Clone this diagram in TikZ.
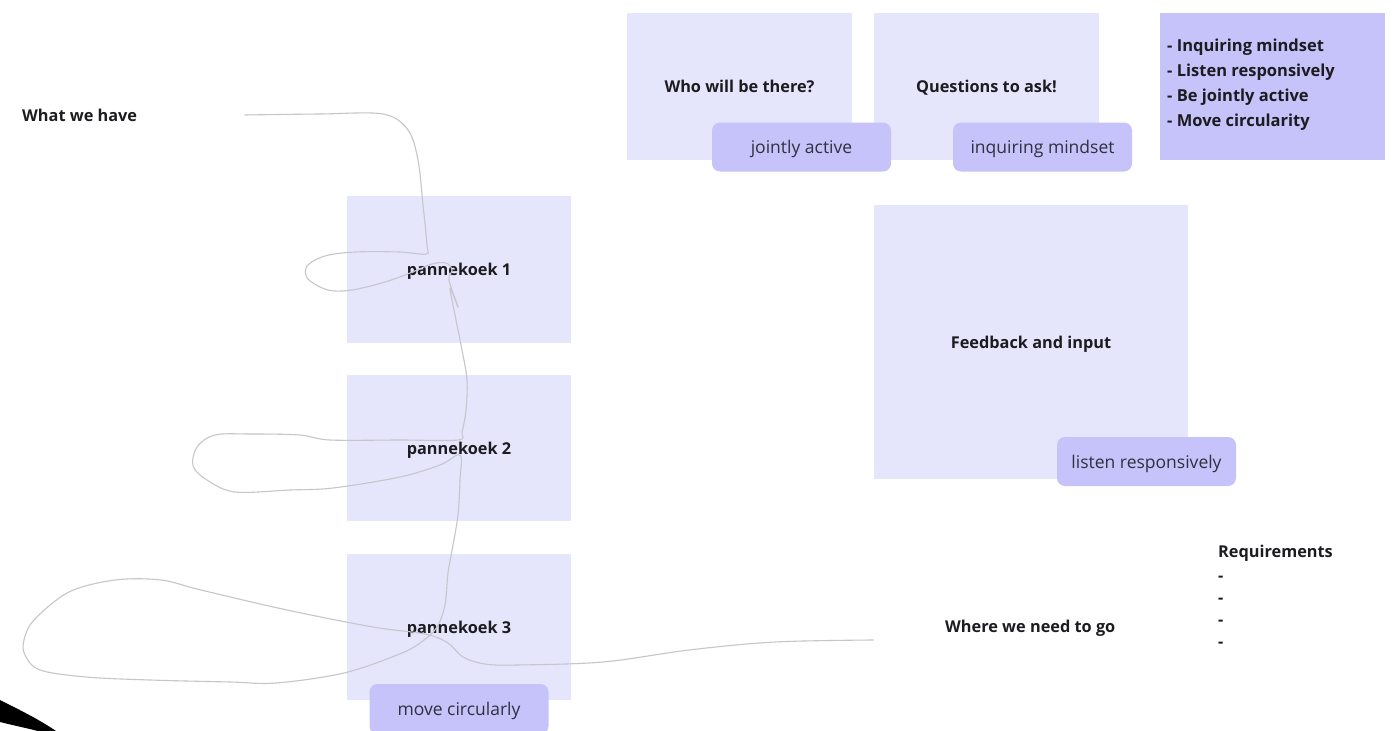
\documentclass[tikz,border=0pt]{standalone}
\usepackage{fontspec}
\setmainfont{Open Sans}
\definecolor{pale}{RGB}{229,229,252}
\definecolor{lilac}{RGB}{198,194,250}
\definecolor{ink}{RGB}{28,28,32}
\definecolor{stickyink}{RGB}{48,48,62}
\definecolor{pencil}{RGB}{198,198,204}

\begin{document}
\begin{tikzpicture}[x=1pt,y=-1pt,
  card/.style={fill=pale, minimum width=225pt, minimum height=147pt, inner sep=0pt,
    text depth=0pt, font=\fontsize{16.3}{20}\selectfont\bfseries, text=ink},
  sticky/.style={fill=lilac, rounded corners=8pt, minimum width=179pt, minimum height=49pt,
    inner sep=0pt, text depth=0pt, font=\fontsize{17.5}{21}\selectfont, text=stickyink},
  heading/.style={font=\fontsize{16.3}{21.7}\selectfont\bfseries, text=ink, inner sep=0pt},
  scribble/.style={draw=pencil, line width=1.1pt, line cap=round, line join=round}]

\useasboundingbox (0,0) rectangle (1398,731);
\fill[white] (0,0) rectangle (1398,731);

% top row of cards
\node[card] (who) at (739.5,86.5) {Who will be there?};
\node[card] (ask) at (986.5,86.5) {Questions to ask!};
\node[card, fill=lilac, minimum width=225pt] (goals) at (1272.5,86.5) {};
\node[heading, anchor=north west, align=left,
      font=\fontsize{16.5}{25}\selectfont\bfseries] (goallist) at (1167,39)
  {- Inquiring mindset\\- Listen responsively\\- Be jointly active\\- Move circularity};
\node[sticky] (jointly) at (801.5,147) {jointly active};
\node[sticky] (inquiring) at (1042.5,147) {inquiring mindset};

% left column
\node[heading, anchor=west] (have) at (22,115) {What we have};
\node[card, minimum width=224pt] (p1) at (459,269.5) {pannekoek 1};
\node[card, minimum width=224pt, minimum height=146pt] (p2) at (459,448) {pannekoek 2};
\node[card, minimum width=224pt, minimum height=146pt] (p3) at (459,627) {pannekoek 3};
\node[sticky, minimum height=50pt] (move) at (459,709) {move circularly};

% feedback card
\node[card, minimum width=314pt, minimum height=274pt] (feedback) at (1031,342) {Feedback and input};
\node[sticky] (listen) at (1146.5,461.5) {listen responsively};

% destination and requirements
\node[heading, anchor=west] (goal) at (945,628) {Where we need to go};
\node[heading, anchor=north west, align=left,
      font=\fontsize{16.3}{22}\selectfont\bfseries] (req) at (1218,545)
  {Requirements\\[2pt]-\\-\\-\\-};

% freehand pen line wandering through the pancakes
\draw[scribble] plot[smooth, tension=0.55] coordinates {
  (245,115) (320,114) (383,114) (408,130) (418,160) (423,205) (427,245) (426,254)
  (400,252) (355,252) (325,256) (307,266) (308,279) (328,290) (352,290) (385,282)
  (410,273) (432,264) (446,263) (452,270) (449,280) (458,307)};
\draw[scribble] plot[smooth, tension=0.55] coordinates {
  (458,307) (450,288) (456,320) (462,350) (467,380) (466,410) (462,432) (458,440)
  (400,440) (330,440) (300,435) (250,434) (215,435) (197,447) (193,466) (207,480)
  (235,492) (290,490) (333,488) (400,477) (440,465) (460,455) (460,480) (458,515)
  (453,545) (448,573) (445,605) (437,627) (424,640) (402,653) (344,673) (276,683)
  (230,682) (150,680) (86,677) (40,670) (25,655) (24,640) (34,620) (69,592) (115,580)
  (161,580) (201,590) (287,610) (373,627) (425,634) (448,643) (463,657) (485,664)
  (517,665) (603,662) (689,650) (775,642) (873,640)};

% dark corner at the lower left edge
\fill[black] (0,700) .. controls (20,710) and (40,720) .. (56,731)
  -- (38,731) .. controls (26,728) and (12,725) .. (0,722) -- cycle;
\end{tikzpicture}
\end{document}
